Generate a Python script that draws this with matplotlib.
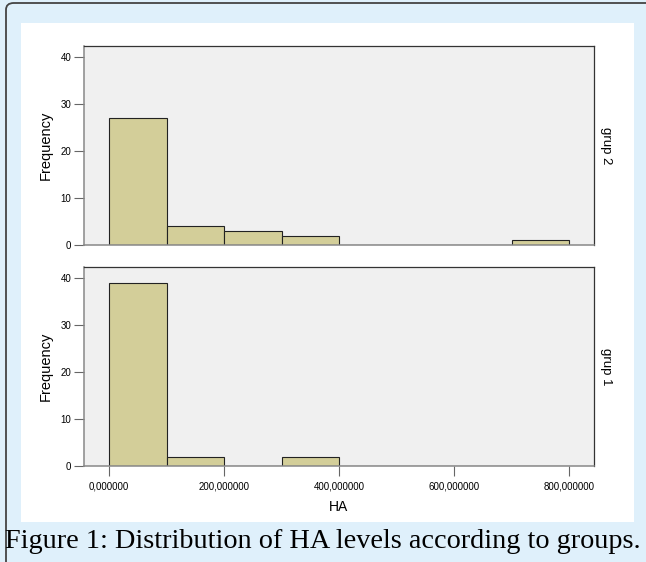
import matplotlib.pyplot as plt
from matplotlib.patches import FancyBboxPatch, Rectangle

# histogram bins (HA) and counts per group
bin_edges = [0, 100, 200, 300, 400, 500, 600, 700, 800]
grup2_counts = [27, 4, 3, 2, 0, 0, 0, 1]
grup1_counts = [39, 2, 0, 2, 0, 0, 0, 0]
y_ticks = [0, 10, 20, 30, 40]
x_ticks = [0, 200, 400, 600, 800]
x_ticklabels = ["0,000000", "200,000000", "400,000000", "600,000000", "800,000000"]

W, H = 646, 562
fig = plt.figure(figsize=(W / 100, H / 100), dpi=100)
fig.patch.set_facecolor("#dff0fb")

# outer rounded frame and white panel
frame = FancyBboxPatch((6 / W, -0.05), 1.05, (H - 3) / H + 0.05,
                       boxstyle="round,pad=0,rounding_size=0.012",
                       transform=fig.transFigure, facecolor="#dff0fb",
                       edgecolor="#444444", linewidth=1.3, zorder=-2)
fig.patches.append(frame)
panel = Rectangle((21 / W, 1 - 522 / H), (634 - 21) / W, (522 - 23) / H,
                  transform=fig.transFigure, facecolor="white",
                  edgecolor="none", zorder=-1)
fig.patches.append(panel)

bar_color = "#d3ce99"
ax_left = 84 / W
ax_w = 510 / W
ax_h = 199 / H
ax_top = fig.add_axes([ax_left, 1 - 245 / H, ax_w, ax_h])
ax_bot = fig.add_axes([ax_left, 1 - 466 / H, ax_w, ax_h])

for ax, counts, name in [(ax_top, grup2_counts, "grup 2"), (ax_bot, grup1_counts, "grup 1")]:
    ax.set_facecolor("#f0f0f0")
    ax.bar(bin_edges[:-1], counts, width=100, align="edge", color=bar_color,
           edgecolor="#222222", linewidth=0.8)
    ax.set_xlim(-43.5, 843)
    ax.set_ylim(0, 42.3)
    ax.set_yticks(y_ticks)
    ax.tick_params(axis="y", length=7, width=0.8, color="#666666",
                   labelsize=7, pad=2)
    for s in ["top", "right"]:
        ax.spines[s].set_color("#333333")
        ax.spines[s].set_linewidth(0.9)
    for s in ["left", "bottom"]:
        ax.spines[s].set_color("#888888")
        ax.spines[s].set_linewidth(1.1)
    ax.set_ylabel("Frequency", fontsize=10.5, labelpad=6)
    ax.text(1.012, 0.5, name, transform=ax.transAxes, rotation=-90,
            ha="left", va="center", fontsize=9.5, family="Liberation Sans")

ax_top.set_xticks([])
ax_bot.set_xticks(x_ticks)
ax_bot.set_xticklabels(x_ticklabels)
ax_bot.tick_params(axis="x", length=7, width=0.8, color="#666666",
                   labelsize=7, pad=4)
ax_bot.set_xlabel("HA", fontsize=10, labelpad=6)

for ax in (ax_top, ax_bot):
    for lab in ax.get_xticklabels() + ax.get_yticklabels():
        lab.set_family("Liberation Sans")
    ax.yaxis.label.set_family("Liberation Sans")
    ax.xaxis.label.set_family("Liberation Sans")

fig.text(323 / W, 1 - 541 / H, "Figure 1: Distribution of HA levels according to groups.",
         ha="center", va="center", fontsize=20.3, family="Liberation Serif")

fig.savefig("out.png", dpi=100, facecolor=fig.get_facecolor())
